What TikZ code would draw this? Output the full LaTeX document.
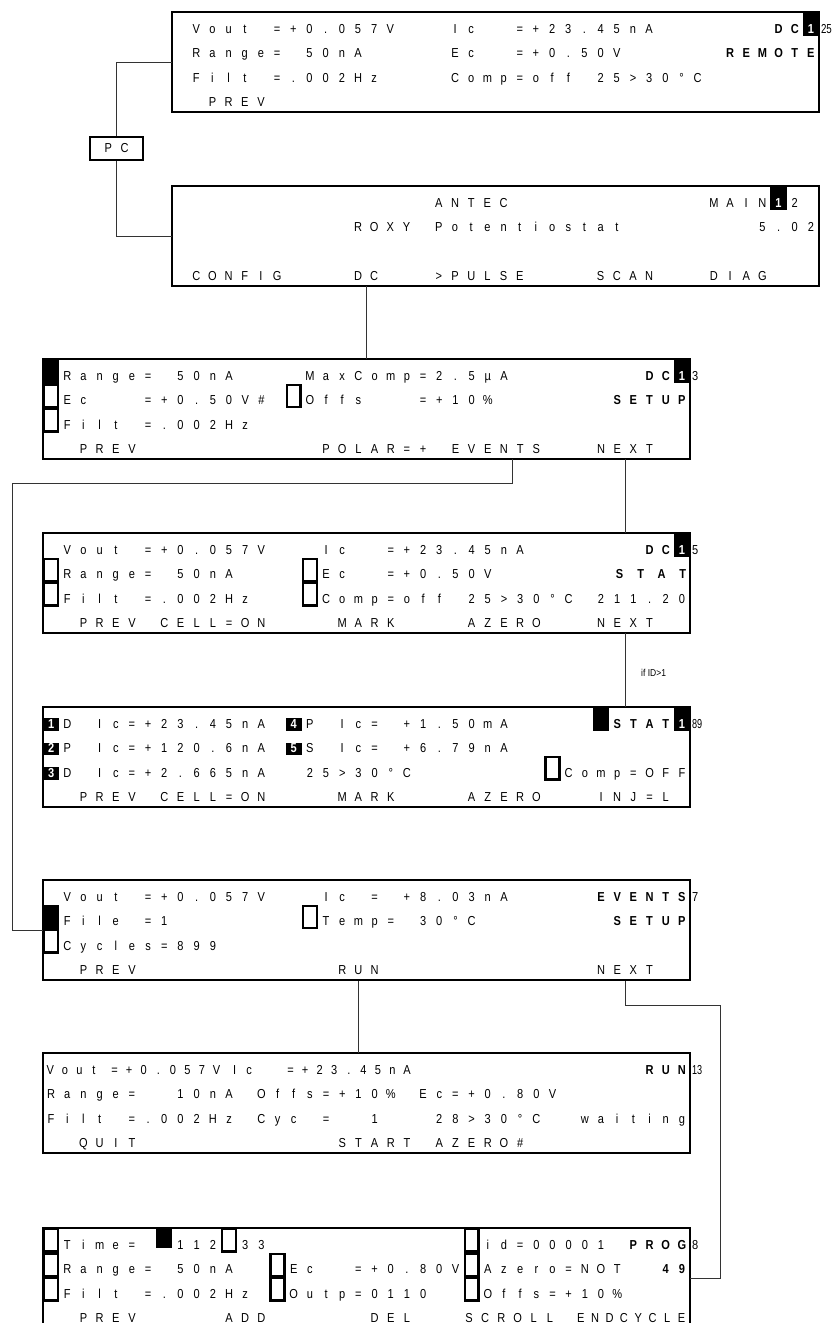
\documentclass[tikz,border=0pt]{standalone}
\usepackage{fontspec}
\setmainfont{Liberation Sans}
\usepackage{graphicx}
\newlength\cw \setlength\cw{16.175pt}
\def\cwv{16.175}
\newcommand\lcdfont{\fontsize{13}{15}\selectfont}
\newcommand\lcdbold{\fontsize{13}{15}\selectfont\bfseries}
\ExplSyntaxOn
\NewDocumentCommand\lcdstr{m}{\tl_map_inline:nn{#1}{\makebox[\cw][c]{\scalebox{0.85}[1]{##1}}}}
\ExplSyntaxOff
\newcounter{tn}
\newcommand\nm{\stepcounter{tn}\edef\nmx{t\arabic{tn}}}
\newcommand\T[4][1]{\nm\node[lcd] (\nmx) at ({#2*\cwv},{24.5*#3-3.4}) {\setlength\cw{#1\cw}\lcdstr{#4}};}
\newcommand\Tn[4]{\node[lcd] (#1) at ({#2*\cwv},{24.5*#3-3.4}) {\lcdstr{#4}};}
\newcommand\TB[4][1]{\nm\node[lcd,font=\lcdbold] (\nmx) at ({#2*\cwv},{24.5*#3-3.4}) {\setlength\cw{#1\cw}\lcdstr{#4}};}
\newcommand\Mfill[2]{\fill ({#1*\cwv},{24.5*(#2-1)}) rectangle ++(\cwv,24.5);}
\newcommand\Mout[2]{\draw[line width=2.4pt] ({#1*\cwv+1.2},{24.5*(#2-1)+1.2}) rectangle ++({\cwv-2.4},{24.5-2.4});}
\newcommand\Mnum[3]{\fill ({#1*\cwv},{24.5*#2-13.5}) rectangle ++(\cwv,12.5);\nm\node[lcd,font=\lcdbold,text=white,anchor=base] (\nmx) at ({(#1+0.5)*\cwv},{24.5*#2-3.4}) {\scalebox{0.85}[1]{#3}};}
\newcommand\Mtop[2]{\fill ({#1*\cwv},0) rectangle ++(\cwv,24);\nm\node[lcd,font=\lcdbold,text=white,anchor=base] (\nmx) at ({(#1+0.5)*\cwv},21.1) {\scalebox{0.85}[1]{#2}};}
\newcommand\Mblk[1]{\fill ({#1*\cwv},0) rectangle ++(\cwv,24);}
\newcommand\Out[2]{\nm\node[lcd] (\nmx) at (649,21.1) {\scalebox{#1}[1]{#2}};}
\begin{document}
\begin{tikzpicture}[x=1pt,y=-1pt,
  lcd/.style={anchor=base west,inner sep=0pt,outer sep=0pt,font=\lcdfont},
  lcdbox/.style={draw,line width=2.8pt,minimum width=647pt,minimum height=100pt,inner sep=0pt,outer sep=0pt,anchor=north west},
  conn/.style={line width=0.9pt,black!80}]
\useasboundingbox (0,0) rectangle (836,1323);
% screens
\node[lcdbox] (top) at (172,12) {};
\node[lcdbox] (main) at (172,186) {};
\node[lcdbox] (dcsetup) at (43,359) {};
\node[lcdbox] (dcstat) at (43,533) {};
\node[lcdbox] (stat) at (43,707) {};
\node[lcdbox] (events) at (43,880) {};
\node[lcdbox] (run) at (43,1053) {};
\node[lcdbox] (prog) at (43,1228) {};
\node[draw,line width=1.2pt,minimum width=53pt,minimum height=23pt,inner sep=0pt] (pc) at (116.5,148.5) {\lcdfont\lcdstr{PC}};
% top remote screen
\begin{scope}[shift={(top.north west)}]
\T{1}{1}{Vout~=+0.057V}\T{17}{1}{Ic}\T{21}{1}{=+23.45nA}\TB{37}{1}{DC}\Mtop{39}{1}\Out{0.75}{25}
\T{1}{2}{Range=~50nA}\T{17}{2}{Ec}\T{21}{2}{=+0.50V}\TB{34}{2}{REMOTE}
\T{1}{3}{Filt~=.002Hz}\T{17}{3}{Comp=off~25>30°C}
\T{2}{4}{PREV}
\end{scope}
% main screen
\begin{scope}[shift={(main.north west)}]
\T{16}{1}{ANTEC}\T{33}{1}{MAIN}\Mtop{37}{1}\T{38}{1}{2}
\T{11}{2}{ROXY~Potentiostat}\T{36}{2}{5.02}
\T{1}{4}{CONFIG}\Tn{mdc}{11}{4}{DC}\T{16}{4}{>PULSE}\T{26}{4}{SCAN}\T{33}{4}{DIAG}
\end{scope}
% DC setup
\begin{scope}[shift={(dcsetup.north west)}]
\Mfill{0}{1}\Mout{0}{2}\Mout{0}{3}\Mout{15}{2}
\T{1}{1}{Range=~50nA}\T{16}{1}{MaxComp=2.5µA}\TB{37}{1}{DC}\Mtop{39}{1}\Out{0.85}{3}
\T{1}{2}{Ec}\T{6}{2}{=+0.50V\#}\T{16}{2}{Offs}\T{23}{2}{=+10\%}\TB{35}{2}{SETUP}
\T{1}{3}{Filt~=.002Hz}
\T{2}{4}{PREV}\T{17}{4}{POLAR=+~EVENTS}\T{34}{4}{NEXT}
\coordinate (evtap) at (469,100);
\coordinate (nexttap) at (582,100);
\end{scope}
% DC stat
\begin{scope}[shift={(dcstat.north west)}]
\Mout{0}{2}\Mout{0}{3}\Mout{16}{2}\Mout{16}{3}
\T{1}{1}{Vout~=+0.057V}\T{17}{1}{Ic}\T{21}{1}{=+23.45nA}\TB{37}{1}{DC}\Mtop{39}{1}\Out{0.85}{5}
\T{1}{2}{Range=~50nA}\T{17}{2}{Ec}\T{21}{2}{=+0.50V}\TB[1.3]{35}{2}{STAT}
\T{1}{3}{Filt~=.002Hz}\T{17}{3}{Comp=off~25>30°C~211.20}
\T{2}{4}{PREV}\T{7}{4}{CELL=ON}\T{18}{4}{MARK}\T{26}{4}{AZERO}\T{34}{4}{NEXT}
\end{scope}
% STAT multi
\begin{scope}[shift={(stat.north west)}]
\Mnum{0}{1}{1}\Mnum{0}{2}{2}\Mnum{0}{3}{3}\Mnum{15}{1}{4}\Mnum{15}{2}{5}
\Mblk{34}\Mtop{39}{1}\Mout{31}{3}
\T{1}{1}{D~Ic=+23.45nA}\T{16}{1}{P~Ic=~+1.50mA}\TB{35}{1}{STAT}\Out{0.7}{89}
\T{1}{2}{P~Ic=+120.6nA}\T{16}{2}{S~Ic=~+6.79nA}
\T{1}{3}{D~Ic=+2.665nA}\T{16}{3}{25>30°C}\T{32}{3}{Comp=OFF}
\T{2}{4}{PREV}\T{7}{4}{CELL=ON}\T{18}{4}{MARK}\T{26}{4}{AZERO}\T{34}{4}{INJ=L}
\end{scope}
% events
\begin{scope}[shift={(events.north west)}]
\Mfill{0}{2}\Mout{0}{3}\Mout{16}{2}
\T{1}{1}{Vout}\T{6}{1}{=+0.057V}\T{17}{1}{Ic~=~+8.03nA}\TB{34}{1}{EVENTS}\Out{0.85}{7}
\T{1}{2}{File}\T{6}{2}{=1}\T{17}{2}{Temp=~30°C}\TB{35}{2}{SETUP}
\T{1}{3}{Cycles=899}
\T{2}{4}{PREV}\T{18}{4}{RUN}\T{34}{4}{NEXT}
\coordinate (runtap) at (315,101);
\coordinate (evnext) at (582,101);
\end{scope}
% run
\begin{scope}[shift={(run.north west)}]
\T[0.9]{0}{1}{Vout}\T[0.9]{3.98}{1}{=+0.057V}\T[0.9]{11.4}{1}{Ic}\T[0.9]{14.86}{1}{=+23.45nA}\TB{37}{1}{RUN}\Out{0.7}{13}
\T{0}{2}{Range=~~10nA~Offs=+10\%~Ec=+0.80V}
\T{0}{3}{Filt~=.002Hz~Cyc~=~~1~~~28>30°C~~waiting}
\T{2}{4}{QUIT}\T{18}{4}{START~AZERO\#}
\end{scope}
% prog
\begin{scope}[shift={(prog.north west)}]
\Mout{0}{1}\Mout{0}{2}\Mout{0}{3}\Mout{11}{1}\Mout{14}{2}\Mout{14}{3}\Mout{26}{1}\Mout{26}{2}\Mout{26}{3}
\fill ({7*\cwv},0) rectangle ++(\cwv,20);
\T{1}{1}{Time=}\T{8}{1}{112}\T{12}{1}{33}\T{27}{1}{id=00001}\TB{36}{1}{PROG}\Out{0.85}{8}
\T{1}{2}{Range=~50nA}\T{15}{2}{Ec}\T{19}{2}{=+0.80V}\T{27}{2}{Azero=NOT}\TB{38}{2}{49}
\T{1}{3}{Filt~=.002Hz}\T{15}{3}{Outp=0110}\T{27}{3}{Offs}\T{31}{3}{=+10\%}
\T{2}{4}{PREV}\T{11}{4}{ADD}\T{20}{4}{DEL}\T{25.84}{4}{SCROLL}\T[0.89]{32.8}{4}{ENDCYCLE}
\end{scope}
% connectors
\coordinate (lft) at (12,483);
\coordinate (rgt) at (720,1005);
\draw[conn] (pc.north) |- (top.west);
\draw[conn] (pc.south) |- (main.west);
\draw[conn] (main.south -| mdc) -- (dcsetup.north -| mdc);
\draw[conn] (evtap) |- (lft) |- (events.west);
\draw[conn] (nexttap) -- (dcstat.north -| nexttap);
\draw[conn] (dcstat.south -| nexttap) -- (stat.north -| nexttap);
\node[font=\fontsize{10}{12}\selectfont,anchor=west,inner sep=0pt] (cond) at (641,673) {\scalebox{0.85}[1]{if ID>1}};
\draw[conn] (runtap) -- (run.north -| runtap);
\draw[conn] (evnext) |- (rgt) |- (prog.east);
\end{tikzpicture}
\end{document}
